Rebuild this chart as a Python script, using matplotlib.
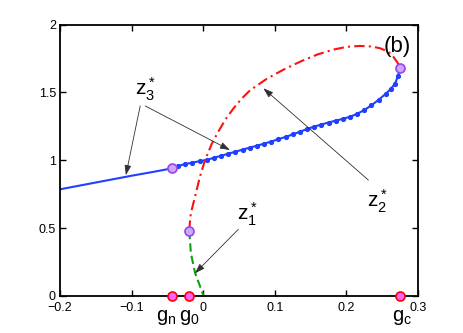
import matplotlib
matplotlib.use('Agg')
import matplotlib.pyplot as plt

plt.rcParams['font.family'] = ['Liberation Sans', 'DejaVu Sans']
plt.rcParams['mathtext.fontset'] = 'custom'
plt.rcParams['mathtext.rm'] = 'Liberation Sans'
plt.rcParams['mathtext.it'] = 'Liberation Sans'
plt.rcParams['mathtext.bf'] = 'Liberation Sans'

# special points
g_n = -0.044
g_0 = -0.0194
g_c = 0.275

# z3* solid branch (g < g_n)
z3_left_x = [-0.2, -0.15, -0.1, -0.07, g_n]
z3_left_y = [0.786, 0.836, 0.886, 0.914, 0.94]

# z3* dotted branch (g_n .. g_c)
z3_x = [g_n, -0.035, -0.025, -0.015, -0.005, 0.005, 0.015, 0.025, 0.035, 0.045,
        0.055, 0.065, 0.075, 0.085, 0.095, 0.105, 0.115, 0.125, 0.135, 0.145,
        0.155, 0.165, 0.175, 0.185, 0.195, 0.205, 0.215, 0.225, 0.235, 0.245,
        0.255, 0.262, 0.268, 0.272, g_c]
z3_y = [0.940, 0.958, 0.972, 0.983, 0.993, 1.003, 1.018, 1.033, 1.048, 1.063,
        1.078, 1.093, 1.107, 1.122, 1.138, 1.155, 1.172, 1.190, 1.210, 1.230,
        1.248, 1.263, 1.278, 1.292, 1.305, 1.320, 1.342, 1.370, 1.405, 1.445,
        1.490, 1.525, 1.565, 1.620, 1.677]

# z2* (red dash-dot)
z2_x = [g_0, -0.0185, -0.0172, -0.0115, -0.0045, 0.0025, 0.0119, 0.021, 0.031,
        0.042, 0.053, 0.0654, 0.0888, 0.112, 0.137, 0.16, 0.1817, 0.2, 0.219,
        0.235, 0.247, 0.2585, 0.2655, 0.272, g_c]
z2_y = [0.48, 0.55, 0.61, 0.73, 0.88, 1.0, 1.12, 1.21, 1.30,
        1.38, 1.45, 1.515, 1.60, 1.667, 1.73, 1.78, 1.815, 1.835, 1.842,
        1.838, 1.825, 1.80, 1.763, 1.714, 1.677]

# z1* (green dashed)
z1_x = [g_0, -0.0172, -0.0112, -0.0042, 0.0005]
z1_y = [0.48, 0.314, 0.167, 0.069, 0.0]

# bifurcation markers
purple_x = [g_n, g_0, g_c]
purple_y = [0.94, 0.48, 1.677]
axis_x = [g_n, g_0, g_c]

fig = plt.figure(figsize=(4.63, 3.33), dpi=100)
ax = fig.add_axes([60 / 463, 37 / 333, 358 / 463, 271.5 / 333])

ax.plot(z3_left_x, z3_left_y, color='#2040ff', lw=1.5)
ax.plot(z3_x, z3_y, color='#2040ff', lw=1.5, marker='.', markersize=5.5)
ax.plot(z2_x, z2_y, color='#ff1010', lw=1.5, linestyle=(0, (5, 2, 1, 2)))
ax.plot(z1_x, z1_y, color='#10a010', lw=1.5, linestyle=(0, (4, 2)))
ax.plot(purple_x, purple_y, linestyle='none', marker='o', markersize=6.5,
        markerfacecolor='#c8a8f8', markeredgecolor='#a040f0', markeredgewidth=1.2,
        zorder=5)
ax.plot(axis_x, [0, 0, 0], linestyle='none', marker='o', markersize=6.5,
        markerfacecolor='#ff60ff', markeredgecolor='#ff0000', markeredgewidth=1.2,
        zorder=6, clip_on=False)

ax.set_xlim(-0.2, 0.3)
ax.set_ylim(0, 2)
ax.set_xticks([-0.2, -0.1, 0, 0.1, 0.2, 0.3])
ax.set_xticklabels(['\u22120.2', '\u22120.1', '0', '0.1', '0.2', '0.3'])
ax.set_yticks([0, 0.5, 1, 1.5, 2])
ax.set_yticklabels(['0', '0.5', '1', '1.5', '2'])
ax.tick_params(direction='in', top=True, right=True, length=4, width=1,
               labelsize=9, pad=3)
ax.tick_params(axis='x', pad=4)
for s in ax.spines.values():
    s.set_linewidth(1.3)

arrow = dict(arrowstyle='-|>,head_length=0.6,head_width=0.2', color='#303030',
             lw=0.6, shrinkA=0, shrinkB=0)
ax.annotate('', xy=(-0.108, 0.89), xytext=(-0.088, 1.40), arrowprops=arrow)
ax.annotate('', xy=(0.0374, 1.075), xytext=(-0.081, 1.40), arrowprops=arrow)
ax.annotate('', xy=(0.084, 1.53), xytext=(0.2307, 0.854), arrowprops=arrow)
ax.annotate('', xy=(-0.0115, 0.167), xytext=(0.049, 0.491), arrowprops=arrow)

ax.text(-0.081, 1.52, r'$z_3^*$', fontsize=15, ha='center', va='center')
ax.text(0.243, 0.70, r'$z_2^*$', fontsize=15, ha='center', va='center')
ax.text(0.062, 0.60, r'$z_1^*$', fontsize=15, ha='center', va='center')
ax.text(0.271, 1.84, '(b)', fontsize=16, ha='center', va='center')

ax.text(g_n - 0.008, -0.16, r'$g_n$', fontsize=14.5, ha='center', va='center')
ax.text(g_0 - 0.0005, -0.16, r'$g_0$', fontsize=14.5, ha='center', va='center')
ax.text(g_c + 0.002, -0.16, r'$g_c$', fontsize=14.5, ha='center', va='center')

fig.savefig('out.png', dpi=100)
